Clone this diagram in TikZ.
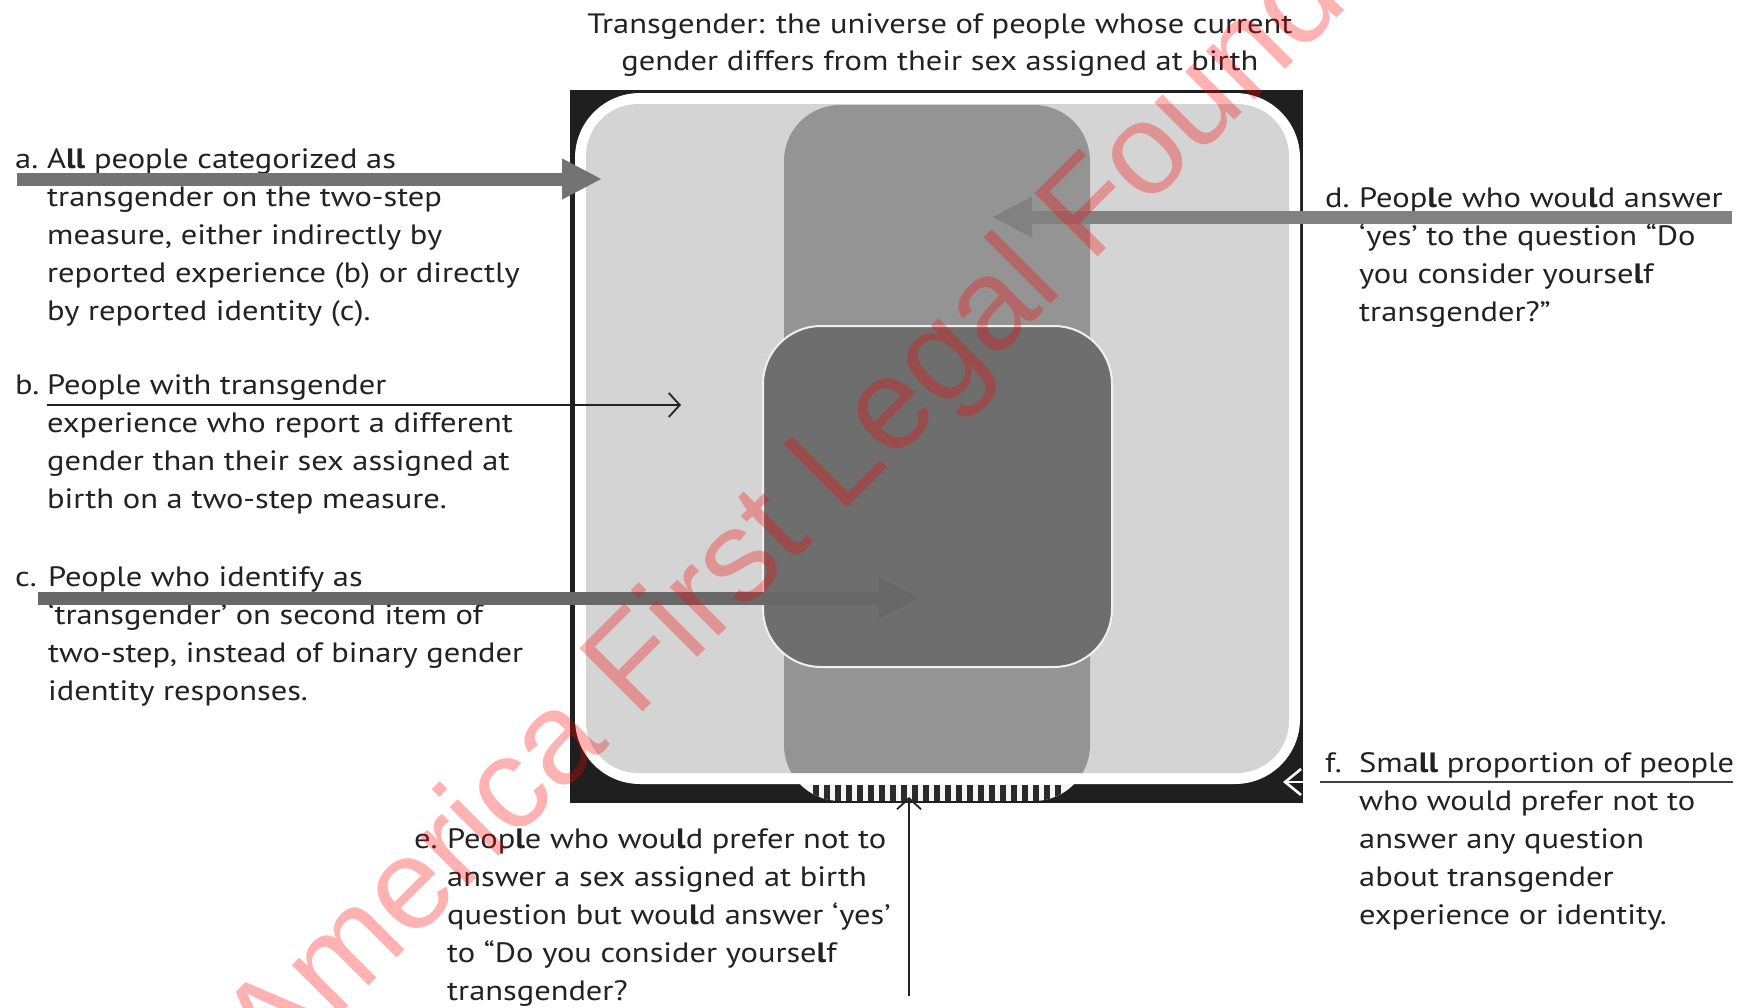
\documentclass[tikz,border=0pt]{standalone}
\usepackage{fontspec}
\setmainfont{PT Sans}[FakeStretch=1.16]
\newfontfamily\wmfont{Liberation Sans}
\usetikzlibrary{arrows.meta}
\definecolor{blk}{HTML}{1F1F1F}
\definecolor{lgray}{HTML}{D4D4D4}
\definecolor{mgray}{HTML}{949494}
\definecolor{dgray}{HTML}{6E6E6E}
\definecolor{agray}{HTML}{737373}
\definecolor{txt}{HTML}{222222}
\definecolor{stripe}{HTML}{2A2A2A}
\newcommand\bl{\textbf{l}}
\begin{document}
\begin{tikzpicture}[x=1pt,y=-1pt,
  lbl/.style={anchor=base west, inner sep=0pt, text=txt, font=\fontsize{28}{38}\selectfont},
  ttl/.style={anchor=base, inner sep=0pt, text=txt, font=\fontsize{28}{37}\selectfont},
  fatarrow/.style={draw=agray, line width=13pt, -{Triangle[length=40pt,width=38pt]}},
  slimarrow/.style={draw=txt, line width=1.8pt, -{Straight Barb[length=11pt,width=24pt,line width=1.8pt]}}]
\useasboundingbox (0,0) rectangle (1743,1007);
\fill[white] (0,0) rectangle (1743,1007);

% outer black square
\fill[blk] (570,90) rectangle (1303,803);
% striped bottom of the column
\begin{scope}
  \clip[rounded corners=56pt] (784,105) rectangle (1090,801);
  \fill[white!92!gray] (784,700) rectangle (1090,801);
  \foreach \k in {0,...,22} \fill[stripe] ({813+11*\k},785) rectangle ({819+11*\k},801);
\end{scope}
% white frame and light universe
\fill[white, rounded corners=65pt] (575,93) rectangle (1300,784);
\fill[lgray, rounded corners=52pt] (586,104) rectangle (1289,773);
% medium column (d)
\begin{scope}
  \clip[rounded corners=52pt] (586,104) rectangle (1289,773);
  \fill[mgray, rounded corners=56pt] (784,105) rectangle (1090,801);
\end{scope}
% dark square (b/c)
\filldraw[fill=dgray, draw=white!88!gray, line width=2pt, rounded corners=58pt] (763,326) rectangle (1112,667);

% title
\node[ttl] (title) at (940,33) {\begin{tabular}[t]{@{}c@{}}Transgender: the universe of people whose current\\gender differs from their sex assigned at birth\end{tabular}};

% labels
\node[lbl] (la) at (15,168) {\begin{tabular}[t]{@{}p{32pt}@{}l@{}}a.&A\bl\bl{} people categorized as\\&transgender on the two-step\\&measure, either indirectly by\\&reported experience (b) or directly\\&by reported identity (c).\end{tabular}};
\node[lbl] (lb) at (15,394) {\begin{tabular}[t]{@{}p{32pt}@{}l@{}}b.&People with transgender\\&experience who report a different\\&gender than their sex assigned at\\&birth on a two-step measure.\end{tabular}};
\node[lbl] (lc) at (15,586) {\begin{tabular}[t]{@{}p{33pt}@{}l@{}}c.&People who identify as\\&‘transgender’ on second item of\\&two-step, instead of binary gender\\&identity responses.\end{tabular}};
\node[lbl] (ld) at (1325,207) {\begin{tabular}[t]{@{}p{34pt}@{}l@{}}d.&Peop\bl e who wou\bl d answer\\&‘yes’ to the question “Do\\&you consider yourse\bl f\\&transgender?”\end{tabular}};
\node[lbl] (le) at (414,848) {\begin{tabular}[t]{@{}p{33pt}@{}l@{}}e.&Peop\bl e who wou\bl d prefer not to\\&answer a sex assigned at birth\\&question but wou\bl d answer ‘yes’\\&to “Do you consider yourse\bl f\\&transgender?\end{tabular}};
\node[lbl] (lf) at (1325,772) {\begin{tabular}[t]{@{}p{34pt}@{}l@{}}f.&Sma\bl\bl{} proportion of people\\&who would prefer not to\\&answer any question\\&about transgender\\&experience or identity.\end{tabular}};

% connector end points
\coordinate (a0) at (17,179);   \coordinate (a1) at (602,179);
\coordinate (b0) at (47,405);   \coordinate (b1) at (681,405);
\coordinate (c0) at (38,598);   \coordinate (c1) at (919,598);
\coordinate (d0) at (1732,217); \coordinate (d1) at (992,217);
\coordinate (e0) at (909,996);  \coordinate (e1) at (909,797);
\coordinate (f0) at (1733,782); \coordinate (f1) at (1283,782); \coordinate (fm) at (1320,782);

% connectors
\draw[fatarrow] (a0) -- (a1);
\draw[slimarrow] (b0) -- (b1);
\draw[fatarrow, draw=dgray!95!black] (c0) -- (c1);
\draw[fatarrow, draw=agray!90!white] (d0) -- (d1);
\draw[slimarrow] (e0) -- (e1);
\draw[draw=white, line width=2.2pt, -{Straight Barb[length=16pt,width=26pt,line width=2.6pt]}] (f0) -- (f1);
\draw[draw=txt!85!white, line width=1.8pt] (f0) -- (fm);

% watermark
\begin{scope}
  \clip (0,0) rectangle (1743,1007);
  \node[anchor=base west, inner sep=0pt, rotate=45, text=red, text opacity=0.3,
        font=\wmfont\fontsize{130}{130}\selectfont] (wm) at (273,1082) {America First Legal Foundation};
\end{scope}
\end{tikzpicture}
\end{document}
